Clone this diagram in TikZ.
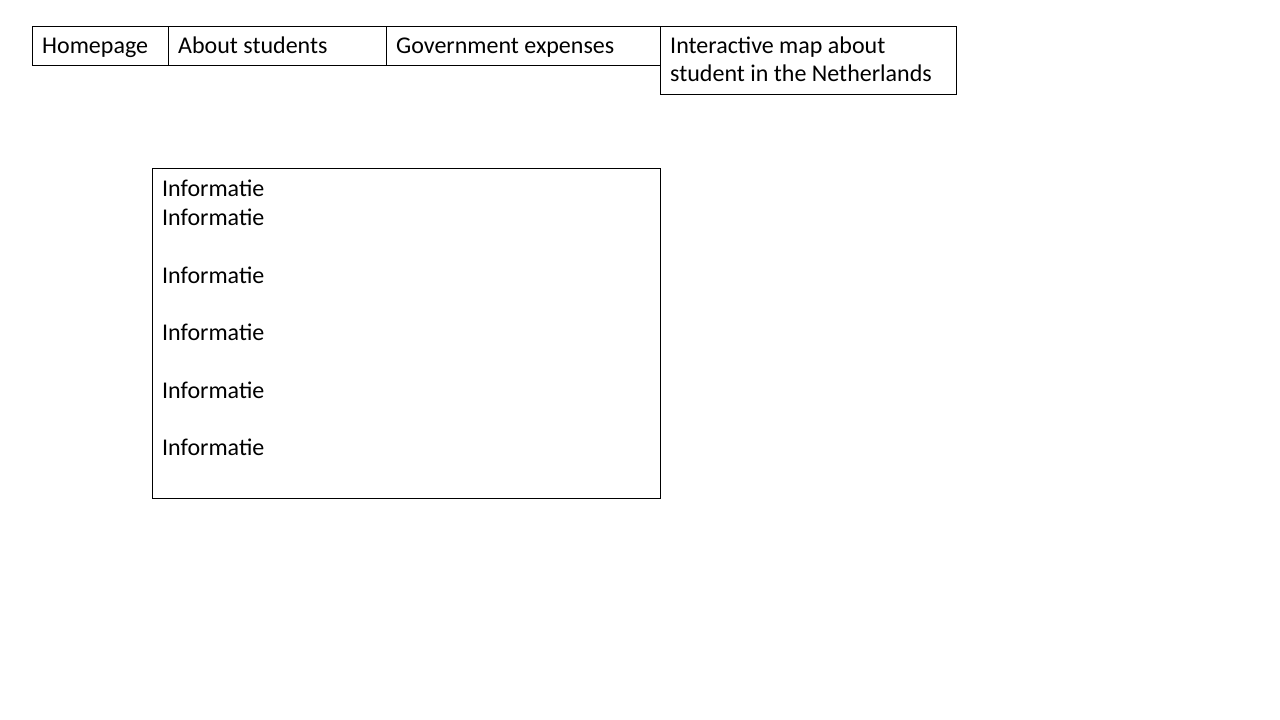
\documentclass[tikz,border=0pt]{standalone}
\usepackage{fontspec}
\setmainfont{Carlito}
\begin{document}
\begin{tikzpicture}[x=1pt,y=-1pt,
  box/.style={draw=black,line width=1pt,rectangle,anchor=north west,inner sep=0pt},
  tab/.style={anchor=base west,inner sep=0pt,font=\fontsize{24}{28.8}\selectfont},
  txt/.style={anchor=north west,align=left,inner sep=0pt,font=\fontsize{24}{28.8}\selectfont}]
\useasboundingbox (0,0) rectangle (1280,720);
\fill[white] (0,0) rectangle (1280,720);
% tabs
\node[box,minimum width=136,minimum height=39] (home) at (32,26) {};
\node[box,minimum width=218,minimum height=39] (about) at (168,26) {};
\node[box,minimum width=274,minimum height=39] (gov) at (386,26) {};
\node[box,minimum width=296,minimum height=68] (map) at (660,26) {};
\node[tab] (hometxt) at (42,53) {Homepage};
\node[tab] (abouttxt) at (178,53) {About students};
\node[tab] (govtxt) at (396,53) {Government expenses};
\node[tab] (maptxt1) at (670,53) {Interactive map about};
\node[tab] (maptxt2) at (670,81.8) {student in the Netherlands};
% info box
\node[box,minimum width=508,minimum height=330] (info) at (152,168) {};
\node[txt] (infotxt) at (162,180) {Informatie\\Informatie\\[28.8pt]Informatie\\[28.8pt]Informatie\\[28.8pt]Informatie\\[28.8pt]Informatie};
\end{tikzpicture}
\end{document}
